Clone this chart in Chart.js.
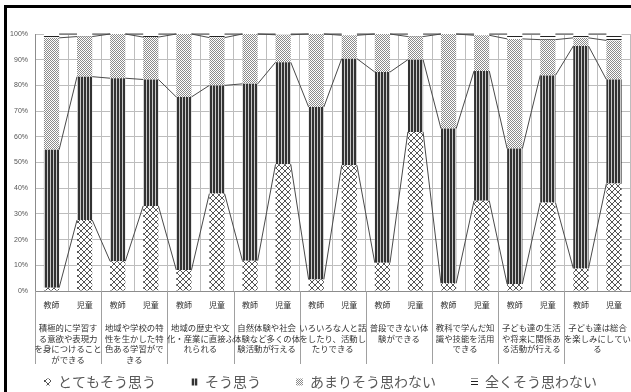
<!DOCTYPE html>
<html>
<head>
<meta charset="utf-8">
<script src="https://cdn.jsdelivr.net/npm/chart.js@4"></script>
<style>
  html, body { margin: 0; padding: 0; background: #fff; }
  #wrap { width: 631px; height: 392px; }
</style>
</head>
<body>
<div id="wrap"><canvas id="chart" width="631" height="392"></canvas></div>
<script>
// Survey items (each item has a teacher bar and a pupil bar)
const groupLabels = [
  ['積極的に学習す', 'る意欲や表現力', 'を身につけること', 'ができる'],
  ['地域や学校の特', '性を生かした特', '色ある学習がで', 'きる'],
  ['地域の歴史や文', '化・産業に直接ふ', 'れられる'],
  ['自然体験や社会', '体験など多くの体', '験活動が行える'],
  ['いろいろな人と話', 'をしたり、活動し', 'たりできる'],
  ['普段できない体', '験ができる'],
  ['教科で学んだ知', '識や技能を活用', 'できる'],
  ['子ども達の生活', 'や将来に関係あ', 'る活動が行える'],
  ['子ども達は総合', 'を楽しみにしてい', 'る']
];
const respondents = ['教師', '児童'];
const seriesNames = ['とてもそう思う', 'そう思う', 'あまりそう思わない', '全くそう思わない'];

// Answer shares in percent, bar order: item1 教師, item1 児童, item2 教師, ...
const veryMuch = [1.3, 27.6, 11.6, 33.1, 8.2, 37.9, 11.8, 49.3, 4.5, 48.9, 11.0, 61.9, 3.0, 35.1, 2.7, 34.4, 8.8, 41.8];
const somewhat = [53.7, 55.8, 71.2, 49.2, 67.3, 42.1, 68.8, 39.7, 67.1, 41.5, 74.2, 28.1, 60.2, 50.5, 52.7, 49.5, 86.5, 40.5];
const notMuch  = [43.5, 15.6, 17.2, 16.5, 24.5, 18.6, 19.4, 10.7, 28.4, 9.1, 14.8, 9.0, 36.8, 13.9, 42.7, 13.9, 3.2, 15.2];
const notAtAll = [1.5, 1.0, 0.0, 1.2, 0.0, 1.4, 0.0, 0.3, 0.0, 0.5, 0.0, 1.0, 0.0, 0.5, 1.9, 2.2, 1.5, 2.5];

const yTickValues = [0, 10, 20, 30, 40, 50, 60, 70, 80, 90, 100];

const barLabels = [];
groupLabels.forEach(() => respondents.forEach(r => barLabels.push(r)));

const canvas = document.getElementById('chart');
const ctx = canvas.getContext('2d');

function makePattern(w, h, paint) {
  const c = document.createElement('canvas');
  c.width = w; c.height = h;
  const g = c.getContext('2d');
  g.fillStyle = '#fff';
  g.fillRect(0, 0, w, h);
  paint(g);
  return ctx.createPattern(c, 'repeat');
}

// cross-hatch
const crossFill = makePattern(6, 6, g => {
  g.strokeStyle = '#555';
  g.lineWidth = 1;
  g.beginPath();
  g.moveTo(0, 0); g.lineTo(6, 6);
  g.moveTo(6, 0); g.lineTo(0, 6);
  g.stroke();
});
// dense vertical stripes
const stripeFill = makePattern(3, 1, g => {
  g.fillStyle = '#333';
  g.fillRect(0, 0, 2, 1);
  g.fillStyle = '#c8c8c8';
  g.fillRect(2, 0, 1, 1);
});
// fine dots
const dotFill = makePattern(2, 2, g => {
  g.fillStyle = '#8a8a8a';
  g.fillRect(0, 0, 1, 1);
  g.fillRect(1, 1, 1, 1);
});
// horizontal lines
const hLineFill = makePattern(1, 3, g => {
  g.fillStyle = '#222';
  g.fillRect(0, 0, 1, 1);
});

const fills = [crossFill, stripeFill, dotFill, hLineFill];
const values = [veryMuch, somewhat, notMuch, notAtAll];

const decorations = {
  id: 'decorations',
  beforeDraw(chart) {
    const c = chart.ctx;
    c.save();
    c.fillStyle = '#fff';
    c.fillRect(0, 0, chart.width, chart.height);
    c.restore();
  },
  afterDatasetsDraw(chart) {
    // series lines joining the top of each segment to the same segment of the next bar
    const c = chart.ctx;
    c.save();
    c.strokeStyle = '#4a4a4a';
    c.lineWidth = 1;
    chart.data.datasets.forEach((ds, di) => {
      const els = chart.getDatasetMeta(di).data;
      for (let i = 0; i < els.length - 1; i++) {
        const a = els[i], b = els[i + 1];
        c.beginPath();
        c.moveTo(a.x + a.width / 2, a.y);
        c.lineTo(b.x - b.width / 2, b.y);
        c.stroke();
      }
    });
    c.restore();
  },
  afterDraw(chart) {
    const c = chart.ctx;
    const xs = chart.scales.x;
    const bottom = chart.chartArea.bottom;
    c.save();
    // group separators below the axis
    c.strokeStyle = '#a0a0a0';
    c.lineWidth = 1;
    for (let g = 0; g <= groupLabels.length; g++) {
      const x = Math.round(xs.getPixelForValue(2 * g - 0.5)) + 0.5;
      c.beginPath();
      c.moveTo(x, bottom);
      c.lineTo(x, 364);
      c.stroke();
    }
    // item names
    c.fillStyle = '#333';
    c.font = '8.4px "Noto Sans CJK JP"';
    c.textAlign = 'center';
    c.textBaseline = 'middle';
    groupLabels.forEach((lines, g) => {
      const x = (xs.getPixelForValue(2 * g) + xs.getPixelForValue(2 * g + 1)) / 2;
      lines.forEach((t, k) => c.fillText(t, x, 328 + k * 10.6));
    });
    // frame
    c.fillStyle = '#000';
    c.fillRect(4, 5, 3, chart.height);
    c.fillRect(4, 5, chart.width, 3);
    c.restore();
  }
};

new Chart(ctx, {
  type: 'bar',
  data: {
    labels: barLabels,
    datasets: values.map((v, i) => ({
      label: seriesNames[i],
      data: v,
      backgroundColor: fills[i],
      borderColor: 'rgba(0,0,0,0)',
      borderWidth: 0,
      categoryPercentage: 1,
      barPercentage: 0.46
    }))
  },
  options: {
    responsive: false,
    devicePixelRatio: 1,
    animation: false,
    layout: { padding: { left: 8, top: 34, right: -2, bottom: -7 } },
    plugins: {
      tooltip: { enabled: false },
      legend: {
        position: 'bottom',
        labels: {
          boxWidth: 7,
          boxHeight: 7,
          padding: 35,
          color: '#595959',
          font: { family: '"Noto Sans CJK JP"', size: 14 }
        }
      }
    },
    scales: {
      x: {
        stacked: true,
        offset: true,
        grid: { offset: true, color: '#bdbdbd', lineWidth: 1, drawTicks: false },
        border: { color: '#8c8c8c' },
        ticks: {
          color: '#333',
          font: { family: '"Noto Sans CJK JP"', size: 8 },
          padding: 9,
          maxRotation: 0,
          autoSkip: false
        },
        afterFit(scale) {
          const legendH = scale.chart.legend ? scale.chart.legend.height : 0;
          scale.height = 392 + 7 - legendH - 291;
        }
      },
      y: {
        stacked: true,
        min: 0,
        max: 100,
        grid: { color: '#bdbdbd', lineWidth: 1, drawTicks: false },
        border: { color: '#8c8c8c' },
        afterBuildTicks(scale) { scale.ticks = yTickValues.map(v => ({ value: v })); },
        ticks: {
          color: '#555',
          font: { family: '"Liberation Sans"', size: 7 },
          padding: 7,
          callback: v => v + '%'
        },
        afterFit(scale) { scale.width = 27; }
      }
    }
  },
  plugins: [decorations]
});
</script>
</body>
</html>
